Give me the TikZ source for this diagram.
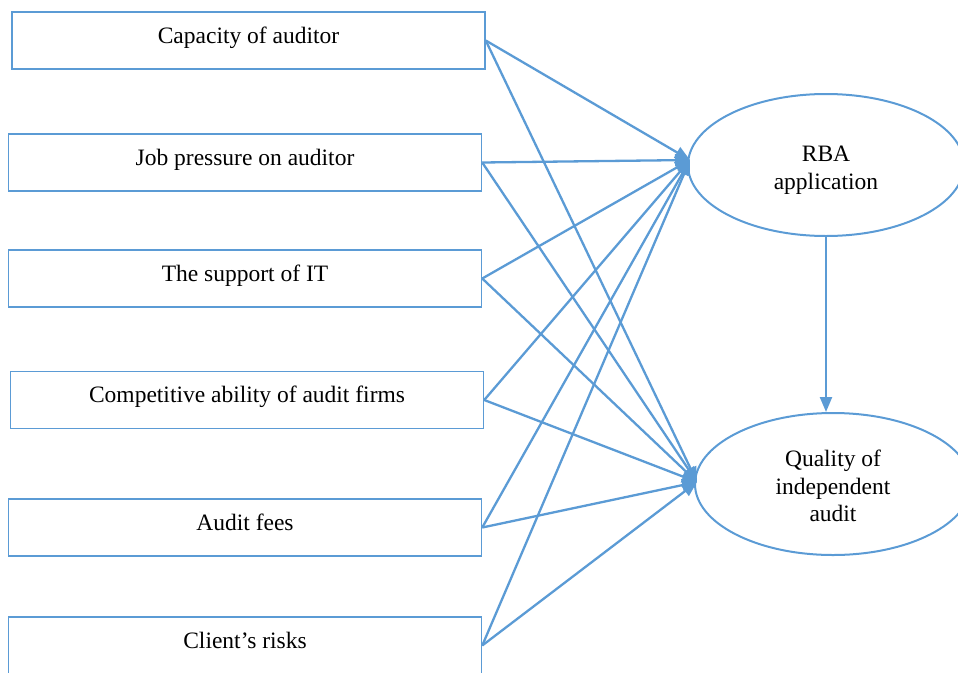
\documentclass[tikz,border=0pt]{standalone}
\usepackage{fontspec}
\setmainfont{Liberation Serif}
\usetikzlibrary{shapes.geometric,arrows.meta}
\definecolor{lineblue}{RGB}{91,155,213}
\begin{document}
\begin{tikzpicture}[x=1pt,y=-1pt,
  factor/.style={draw=lineblue,line width=1.5pt,minimum width=473pt,minimum height=57pt,inner sep=0pt,text height=15pt,text depth=9.4pt,font=\fontsize{23.5}{28}\selectfont},
  construct/.style={draw=lineblue,line width=2pt,ellipse,minimum width=276pt,minimum height=142pt,inner sep=0pt},
  label text/.style={align=center,inner sep=0pt,font=\fontsize{23.5}{27.5}\selectfont},
  link/.style={draw=lineblue,line width=2.3pt,-{Triangle[length=15pt,width=12pt]}}]
\useasboundingbox (0,0) rectangle (958,672);
\clip (0,0) rectangle (958,672);
\node[factor] (f1) at (248.5,40.5) {Capacity of auditor};
\node[factor] (f2) at (245,162.5) {Job pressure on auditor};
\node[factor] (f3) at (245,278.5) {The support of IT};
\node[factor] (f4) at (247,400) {Competitive ability of audit firms};
\node[factor] (f5) at (245,527.5) {Audit fees};
\node[factor] (f6) at (245,645.5) {Client’s risks};
\node[construct] (rba) at (826,165) {};
\node[construct] (qual) at (833,484) {};
\node[label text] (rbatext) at ([yshift=-5pt]rba.center) {RBA\\application};
\node[label text] (qualtext) at ([yshift=-2pt]qual.center) {Quality of\\independent\\audit};
\coordinate (rbain) at (690,160);
\coordinate (qualin) at (697,482);
\foreach \f in {f1,f2,f3,f4,f5,f6}{
  \draw[link] (\f.east) -- (rbain);
  \draw[link] (\f.east) -- (qualin);
}
\draw[link] (rba.south) -- (rba.south |- qual.north);
\end{tikzpicture}
\end{document}
